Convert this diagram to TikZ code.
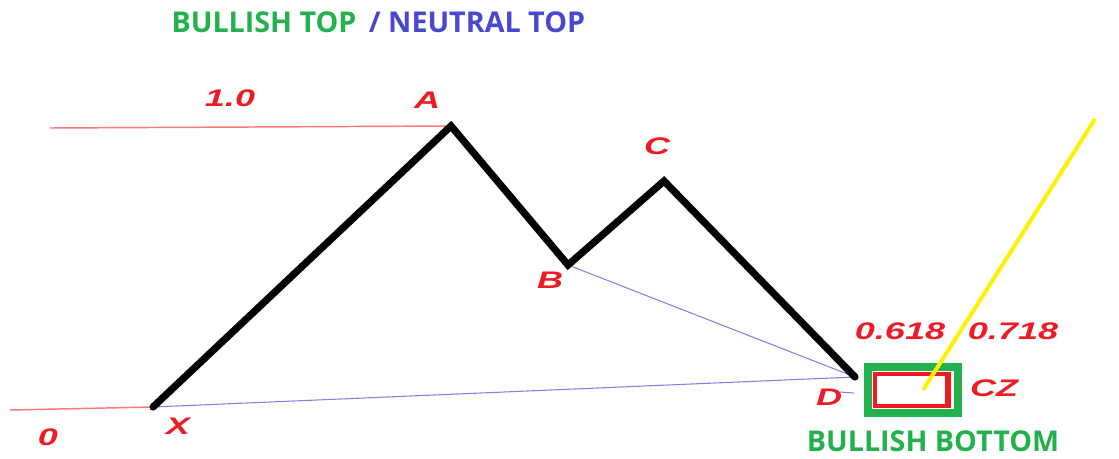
\documentclass[tikz,border=0pt]{standalone}
\usepackage{fontspec}
\setmainfont{Liberation Sans}
\newfontfamily\greenfont{Open Sans}
\definecolor{pred}{RGB}{237,28,36}
\definecolor{pgreen}{RGB}{34,177,76}
\definecolor{pblue}{RGB}{72,72,208}
\definecolor{lblue}{RGB}{130,130,230}
\definecolor{lred}{RGB}{255,120,120}
\definecolor{pyellow}{RGB}{255,242,0}
\tikzset{
  wave/.style={line width=5.4pt, black, line cap=round, line join=miter},
  fibline/.style={line width=1.1pt, lred},
  guide/.style={line width=0.8pt, lblue},
  redlbl/.style={text=pred, font=\fontsize{18}{18}\selectfont\bfseries\itshape, inner sep=0pt},
  titlelbl/.style={font=\greenfont\fontsize{21.5}{21.5}\selectfont\bfseries, inner sep=0pt},
}
\newcommand{\wide}[1]{\scalebox{1.5}[1]{#1}}
\begin{document}
\begin{tikzpicture}[x=0.75pt,y=-0.75pt]
\useasboundingbox (0,0) rectangle (1119,458);
% points
\coordinate (X) at (153,407);
\coordinate (A) at (451,126);
\coordinate (B) at (568,265);
\coordinate (C) at (664,181);
\coordinate (D) at (855,377);
\coordinate (topL) at (50,128);
\coordinate (botL) at (10,410);
\coordinate (stubL) at (840,392);
\coordinate (stubR) at (854,393);
\coordinate (yT) at (1095,119);
\coordinate (yB) at (923,390);
% fib lines
\draw[fibline] (topL) -- (A);
\draw[fibline] (botL) -- (X);
% guide lines
\draw[guide] (X) -- (D);
\draw[guide] (B) -- (D);
\draw[guide] (stubL) -- (stubR);
% wave
\draw[wave] (X) -- (A) -- (B) -- (C) -- (D);
% boxes
\draw[pgreen, line width=6pt] (868,367) rectangle (958,413);
\draw[pred, line width=2.6pt] (875,374) rectangle (949,406);
\draw[pred, line width=5pt] (948,372.5) -- (948,407.5);
% yellow line
\draw[pyellow, line width=3pt] (yT) -- (yB);
% labels
\node[titlelbl, text=pgreen] (t1) at (264,22) {BULLISH TOP};
\node[titlelbl, text=pblue] (t2) at (477,22) {/ NEUTRAL TOP};
\node[titlelbl, text=pgreen] (t3) at (933,441) {BULLISH BOTTOM};
\node[redlbl] (l10) at (230,98) {\wide{1.0}};
\node[redlbl] (lA) at (427,100) {\wide{A}};
\node[redlbl] (lC) at (657,146) {\wide{C}};
\node[redlbl] (lB) at (550,280) {\wide{B}};
\node[redlbl] (lD) at (829,397) {\wide{D}};
\node[redlbl] (lX) at (178,426) {\wide{X}};
\node[redlbl] (l0) at (48,437) {\wide{0}};
\node[redlbl] (l618) at (900,331) {\wide{0.618}};
\node[redlbl] (l718) at (1013,331) {\wide{0.718}};
\node[redlbl] (lCZ) at (994,388) {\wide{CZ}};
\end{tikzpicture}
\end{document}
